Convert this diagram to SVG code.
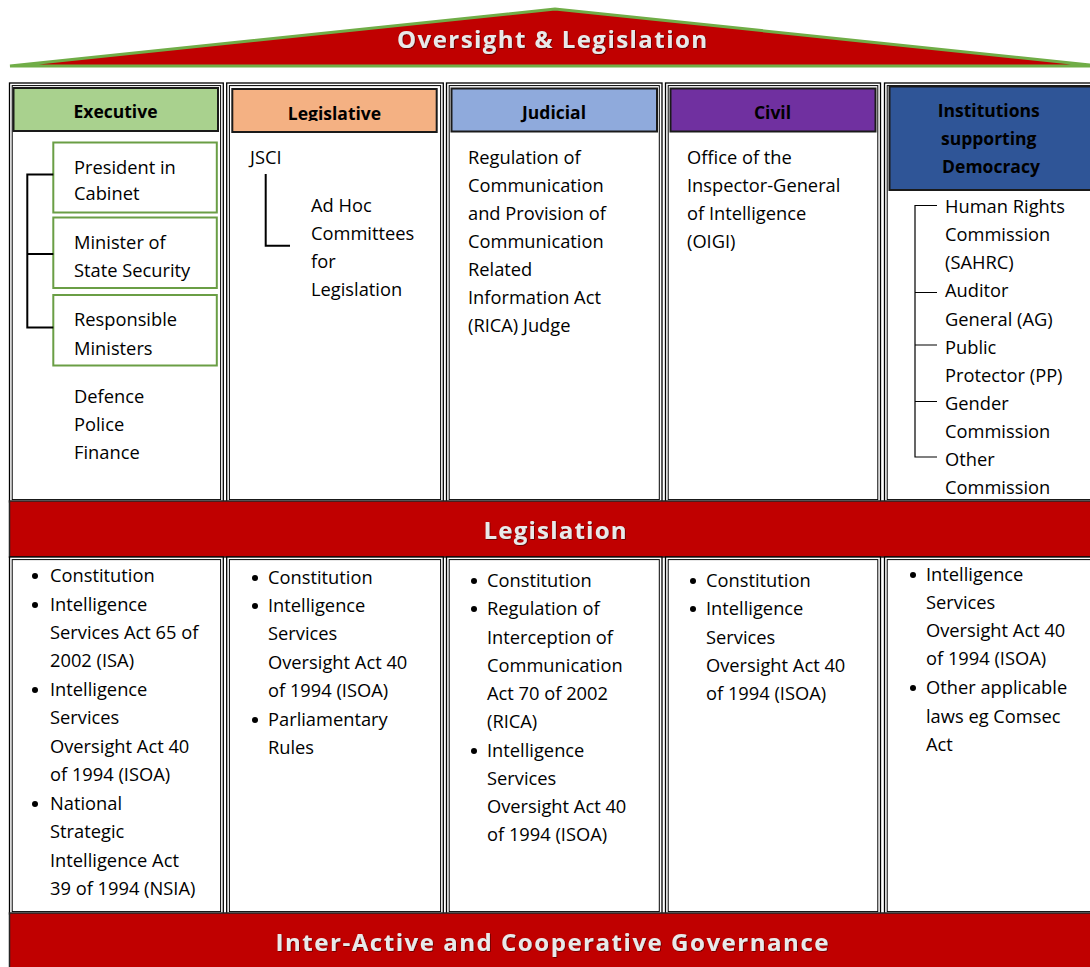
<svg xmlns="http://www.w3.org/2000/svg" width="1090" height="967" viewBox="0 0 1090 967">
  <defs>
    <style>
      .outer{fill:#fff;stroke:#000;stroke-width:1.3}
      .inner{fill:none;stroke:#000;stroke-width:1}
      .hdr{stroke:#1a1a1a;stroke-width:2}
      .t{font-family:"Open Sans","Liberation Sans",sans-serif;font-size:18.3px;fill:#000}
      .hb{font-family:"Open Sans","Liberation Sans",sans-serif;font-size:17.5px;font-weight:700;fill:#000;text-anchor:middle}
      .band{fill:#C00000;stroke:#262626;stroke-width:1.5}
      .bt{font-family:"Open Sans","Liberation Sans",sans-serif;font-size:24px;font-weight:700;fill:#E9E9E9;text-anchor:middle}
      .gbox{fill:#fff;stroke:#6A9E45;stroke-width:2}
      .link{fill:none;stroke:#000;stroke-width:2}
      .thin{fill:none;stroke:#000;stroke-width:1.2}
      .dot{fill:#000}
    </style>
    <filter id="shade" x="-5%" y="-20%" width="110%" height="140%">
      <feDropShadow dx="0.8" dy="0.8" stdDeviation="0.6" flood-color="#400000" flood-opacity="0.8"/>
    </filter>
    <clipPath id="legClip">
      <rect x="232" y="89" width="205" height="32"/>
    </clipPath>
  </defs>

  <!-- roof -->
  <g id="roof">
    <polygon points="10,66 555,9 1100,66" fill="#C00000" stroke="#70AD47" stroke-width="3" stroke-linejoin="miter"/>
    <text class="bt" x="552" y="48" textLength="310" lengthAdjust="spacing" filter="url(#shade)">Oversight &amp; Legislation</text>
  </g>

  <!-- upper pillars -->
  <g id="col-executive">
    <rect class="outer" x="9.5" y="83" width="213.8" height="419"/>
    <rect class="inner" x="12.2" y="85.6" width="208.4" height="414"/>
    <rect class="hdr" x="13.5" y="88" width="204.5" height="43" fill="#A9D18E"/>
    <text class="hb" x="115.5" y="118">Executive</text>
  </g>
  <g id="col-legislative">
    <rect class="outer" x="226.7" y="83" width="216.6" height="419"/>
    <rect class="inner" x="229.4" y="85.6" width="211.2" height="414"/>
    <rect class="hdr" x="232.3" y="89" width="204.4" height="43" fill="#F4B183"/>
    <text class="hb" x="334.5" y="120" clip-path="url(#legClip)">Legislative</text>
  </g>
  <g id="col-judicial">
    <rect class="outer" x="446.5" y="83" width="215.5" height="419"/>
    <rect class="inner" x="449.2" y="85.6" width="210.1" height="414"/>
    <rect class="hdr" x="451.5" y="88.5" width="205.5" height="43" fill="#8FAADC"/>
    <text class="hb" x="554" y="119">Judicial</text>
  </g>
  <g id="col-civil">
    <rect class="outer" x="665.5" y="83" width="215" height="419"/>
    <rect class="inner" x="668.2" y="85.6" width="209.6" height="414"/>
    <rect class="hdr" x="670.5" y="88.5" width="205" height="43" fill="#7030A0"/>
    <text class="hb" x="772.5" y="119">Civil</text>
  </g>
  <g id="col-institutions">
    <rect class="outer" x="884.5" y="83" width="215" height="419"/>
    <rect class="inner" x="887.2" y="85.6" width="210" height="414"/>
    <rect class="hdr" x="889.5" y="86.5" width="210" height="103.5" fill="#2F5597"/>
    <text class="hb">
      <tspan x="991" y="117">Institutions</tspan>
      <tspan x="991" y="145">supporting</tspan>
      <tspan x="991" y="173">Democracy</tspan>
    </text>
  </g>

  <!-- executive members -->
  <g id="node-president">
    <rect class="gbox" x="53.3" y="142.5" width="163.5" height="70"/>
    <text class="t"><tspan x="74" y="174">President in</tspan><tspan x="74" y="200">Cabinet</tspan></text>
  </g>
  <g id="node-minister">
    <rect class="gbox" x="53.3" y="217.5" width="163.5" height="70.5"/>
    <text class="t"><tspan x="74" y="249">Minister of</tspan><tspan x="74" y="277">State Security</tspan></text>
  </g>
  <g id="node-responsible">
    <rect class="gbox" x="53.3" y="295" width="163.5" height="70.5"/>
    <text class="t"><tspan x="74" y="326">Responsible</tspan><tspan x="74" y="355">Ministers</tspan></text>
  </g>
  <g id="node-portfolios">
    <text class="t"><tspan x="74" y="403">Defence</tspan><tspan x="74" y="431">Police</tspan><tspan x="74" y="459">Finance</tspan></text>
  </g>

  <!-- legislative members -->
  <g id="node-jsci">
    <text class="t" x="250" y="164">JSCI</text>
  </g>
  <g id="node-adhoc">
    <text class="t"><tspan x="311" y="212">Ad Hoc</tspan><tspan x="311" y="240">Committees</tspan><tspan x="311" y="268">for</tspan><tspan x="311" y="296">Legislation</tspan></text>
  </g>

  <!-- judicial -->
  <g id="node-rica-judge">
    <text class="t">
      <tspan x="468" y="164">Regulation of</tspan>
      <tspan x="468" y="192">Communication</tspan>
      <tspan x="468" y="220">and Provision of</tspan>
      <tspan x="468" y="248">Communication</tspan>
      <tspan x="468" y="276">Related</tspan>
      <tspan x="468" y="304">Information Act</tspan>
      <tspan x="468" y="332">(RICA) Judge</tspan>
    </text>
  </g>

  <!-- civil -->
  <g id="node-oigi">
    <text class="t">
      <tspan x="687" y="164">Office of the</tspan>
      <tspan x="687" y="192">Inspector-General</tspan>
      <tspan x="687" y="220">of Intelligence</tspan>
      <tspan x="687" y="248">(OIGI)</tspan>
    </text>
  </g>

  <!-- chapter 9 institutions -->
  <g id="node-sahrc">
    <text class="t"><tspan x="945" y="213">Human Rights</tspan><tspan x="945" y="241">Commission</tspan><tspan x="945" y="269">(SAHRC)</tspan></text>
  </g>
  <g id="node-ag">
    <text class="t"><tspan x="945" y="297">Auditor</tspan><tspan x="945" y="326">General (AG)</tspan></text>
  </g>
  <g id="node-pp">
    <text class="t"><tspan x="945" y="354">Public</tspan><tspan x="945" y="382">Protector (PP)</tspan></text>
  </g>
  <g id="node-gender">
    <text class="t"><tspan x="945" y="410">Gender</tspan><tspan x="945" y="438">Commission</tspan></text>
  </g>
  <g id="node-other">
    <text class="t"><tspan x="945" y="466">Other</tspan><tspan x="945" y="494">Commission</tspan></text>
  </g>

  <!-- connectors -->
  <g id="connectors">
    <path class="link" d="M53.3,174.5 H27.3 V327.5 H53.3 M27.3,254 H53.3"/>
    <path class="link" d="M265.7,174 V245.7 H290"/>
    <path class="thin" d="M937,205.5 H915 V457 H937 M915,292.5 H937 M915,345 H937 M915,401.5 H937"/>
  </g>

  <!-- middle band -->
  <g id="band-legislation">
    <rect class="band" x="9.5" y="501" width="1095" height="56"/>
    <text class="bt" x="555" y="539" textLength="143" lengthAdjust="spacing" filter="url(#shade)">Legislation</text>
  </g>

  <!-- lower pillars -->
  <g id="laws-executive">
    <rect class="outer" x="9.5" y="557" width="213.8" height="357"/>
    <rect class="inner" x="12.2" y="559.6" width="208.4" height="352"/>
    <circle class="dot" cx="35" cy="576" r="3"/>
    <circle class="dot" cx="35" cy="605" r="3"/>
    <circle class="dot" cx="35" cy="690" r="3"/>
    <circle class="dot" cx="35" cy="804" r="3"/>
    <text class="t">
      <tspan x="50" y="582">Constitution</tspan>
      <tspan x="50" y="611">Intelligence</tspan>
      <tspan x="50" y="639">Services Act 65 of</tspan>
      <tspan x="50" y="667">2002 (ISA)</tspan>
      <tspan x="50" y="696">Intelligence</tspan>
      <tspan x="50" y="724">Services</tspan>
      <tspan x="50" y="753">Oversight Act 40</tspan>
      <tspan x="50" y="781">of 1994 (ISOA)</tspan>
      <tspan x="50" y="810">National</tspan>
      <tspan x="50" y="838">Strategic</tspan>
      <tspan x="50" y="867">Intelligence Act</tspan>
      <tspan x="50" y="895">39 of 1994 (NSIA)</tspan>
    </text>
  </g>
  <g id="laws-legislative">
    <rect class="outer" x="226.7" y="557" width="216.6" height="357"/>
    <rect class="inner" x="229.4" y="559.6" width="211.2" height="352"/>
    <circle class="dot" cx="255" cy="578" r="3"/>
    <circle class="dot" cx="255" cy="606" r="3"/>
    <circle class="dot" cx="255" cy="720" r="3"/>
    <text class="t">
      <tspan x="268" y="584">Constitution</tspan>
      <tspan x="268" y="612">Intelligence</tspan>
      <tspan x="268" y="640">Services</tspan>
      <tspan x="268" y="669">Oversight Act 40</tspan>
      <tspan x="268" y="697">of 1994 (ISOA)</tspan>
      <tspan x="268" y="726">Parliamentary</tspan>
      <tspan x="268" y="754">Rules</tspan>
    </text>
  </g>
  <g id="laws-judicial">
    <rect class="outer" x="446.5" y="557" width="215.5" height="357"/>
    <rect class="inner" x="449.2" y="559.6" width="210.1" height="352"/>
    <circle class="dot" cx="474" cy="581" r="3"/>
    <circle class="dot" cx="474" cy="609" r="3"/>
    <circle class="dot" cx="474" cy="751" r="3"/>
    <text class="t">
      <tspan x="487" y="587">Constitution</tspan>
      <tspan x="487" y="615">Regulation of</tspan>
      <tspan x="487" y="644">Interception of</tspan>
      <tspan x="487" y="672">Communication</tspan>
      <tspan x="487" y="700">Act 70 of 2002</tspan>
      <tspan x="487" y="728">(RICA)</tspan>
      <tspan x="487" y="757">Intelligence</tspan>
      <tspan x="487" y="785">Services</tspan>
      <tspan x="487" y="813">Oversight Act 40</tspan>
      <tspan x="487" y="841">of 1994 (ISOA)</tspan>
    </text>
  </g>
  <g id="laws-civil">
    <rect class="outer" x="665.5" y="557" width="215" height="357"/>
    <rect class="inner" x="668.2" y="559.6" width="209.6" height="352"/>
    <circle class="dot" cx="693" cy="581" r="3"/>
    <circle class="dot" cx="693" cy="609" r="3"/>
    <text class="t">
      <tspan x="706" y="587">Constitution</tspan>
      <tspan x="706" y="615">Intelligence</tspan>
      <tspan x="706" y="644">Services</tspan>
      <tspan x="706" y="672">Oversight Act 40</tspan>
      <tspan x="706" y="700">of 1994 (ISOA)</tspan>
    </text>
  </g>
  <g id="laws-institutions">
    <rect class="outer" x="884.5" y="557" width="215" height="357"/>
    <rect class="inner" x="887.2" y="559.6" width="210" height="352"/>
    <circle class="dot" cx="913" cy="575" r="3"/>
    <circle class="dot" cx="913" cy="688" r="3"/>
    <text class="t">
      <tspan x="926" y="581">Intelligence</tspan>
      <tspan x="926" y="609">Services</tspan>
      <tspan x="926" y="637">Oversight Act 40</tspan>
      <tspan x="926" y="665">of 1994 (ISOA)</tspan>
      <tspan x="926" y="694">Other applicable</tspan>
      <tspan x="926" y="723">laws eg Comsec</tspan>
      <tspan x="926" y="751">Act</tspan>
    </text>
  </g>

  <!-- foundation band -->
  <g id="band-governance">
    <rect class="band" x="9.5" y="913" width="1095" height="60"/>
    <text class="bt" x="552" y="951" textLength="553" lengthAdjust="spacing" filter="url(#shade)">Inter-Active and Cooperative Governance</text>
  </g>
</svg>
